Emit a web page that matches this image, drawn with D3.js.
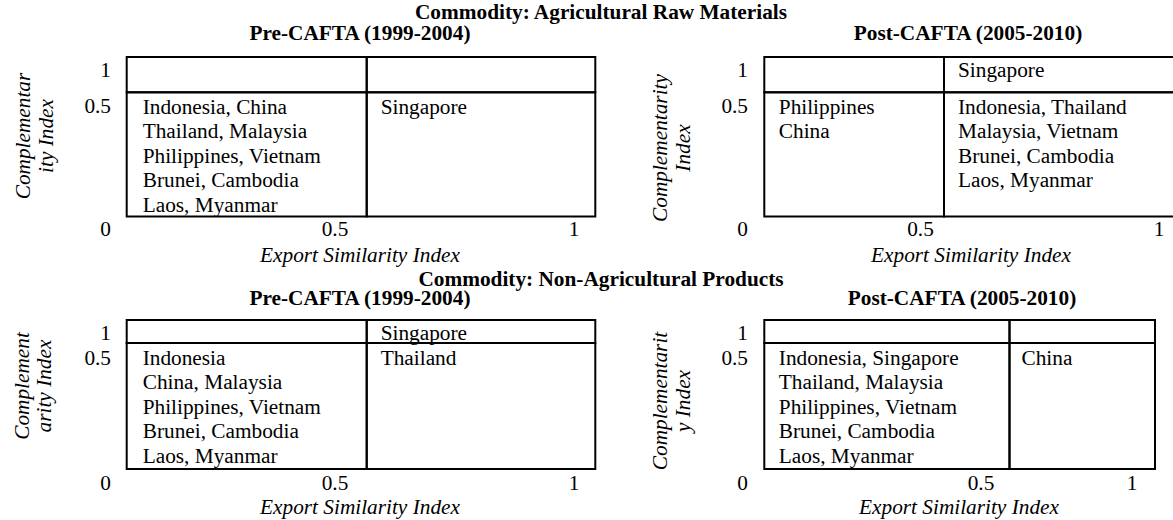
<!DOCTYPE html>
<html>
<head>
<meta charset="utf-8">
<script src="https://cdn.jsdelivr.net/npm/d3@7"></script>
<style>
  body { margin: 0; background: #fff; }
  svg text { font-family: "Liberation Serif", "Times New Roman", serif; font-size: 21.3px; fill: #000; }
  .title { font-weight: bold; }
  .axis-label { font-style: italic; }
</style>
</head>
<body>
<div id="chart"></div>
<script>
// ---- Data ----
const commodities = ['Commodity: Agricultural Raw Materials', 'Commodity: Non-Agricultural Products'];
const periods = ['Pre-CAFTA (1999-2004)', 'Post-CAFTA (2005-2010)'];
const xAxisLabel = 'Export Similarity Index';
const xTickValues = [0.5, 1];
const yTickValues = [1, 0.5, 0];
// y axis title as it wraps in each panel
const yAxisLines = [
  ['Complementar', 'ity Index'],
  ['Complementarity', 'Index'],
  ['Complement', 'arity Index'],
  ['Complementarit', 'y Index'],
];

// Countries per quadrant: [high compl./low sim., high compl./high sim., low compl./low sim., low compl./high sim.]
const agriPre = [
  [],
  [],
  ['Indonesia, China', 'Thailand, Malaysia', 'Philippines, Vietnam', 'Brunei, Cambodia', 'Laos, Myanmar'],
  ['Singapore'],
];
const agriPost = [
  [],
  ['Singapore'],
  ['Philippines', 'China'],
  ['Indonesia, Thailand', 'Malaysia, Vietnam', 'Brunei, Cambodia', 'Laos, Myanmar'],
];
const nonAgriPre = [
  [],
  ['Singapore'],
  ['Indonesia', 'China, Malaysia', 'Philippines, Vietnam', 'Brunei, Cambodia', 'Laos, Myanmar'],
  ['Thailand'],
];
const nonAgriPost = [
  [],
  [],
  ['Indonesia, Singapore', 'Thailand, Malaysia', 'Philippines, Vietnam', 'Brunei, Cambodia', 'Laos, Myanmar'],
  ['China'],
];

// ---- Layout ----
const width = 1173;
const height = 520;
const lineHeight = 24.5;

const blocks = [
  { title: 19, subtitle: 40, top: 57, mid: 92.3, bottom: 216.5, tickY: [236, 113, 77], xTitle: 262, yTitleC: [136, 148] },
  { title: 286, subtitle: 305, top: 320, mid: 343, bottom: 469, tickY: [490, 365, 340], xTitle: 514, yTitleC: [386, 401] },
];

const panels = [
  { block: 0, period: 0, cells: agriPre, yLines: yAxisLines[0], cols: [126.7, 366.7, 595.3], pad: [16, 14],
    yTickX: 111, xTicks: [335, 574], xTitleX: 360, subX: 360, yTitleX: [30, 53] },
  { block: 0, period: 1, cells: agriPost, yLines: yAxisLines[1], cols: [764.3, 944, 1176], pad: [14.5, 14],
    yTickX: 748, xTicks: [920.5, 1159], xTitleX: 971, subX: 968, yTitleX: [667, 690] },
  { block: 1, period: 0, cells: nonAgriPre, yLines: yAxisLines[2], cols: [126.7, 366.7, 595.3], pad: [16, 14],
    yTickX: 111, xTicks: [335, 574], xTitleX: 360, subX: 360, yTitleX: [29, 51] },
  { block: 1, period: 1, cells: nonAgriPost, yLines: yAxisLines[3], cols: [764.3, 1009.5, 1155], pad: [14.5, 12],
    yTickX: 748, xTicks: [981, 1132], xTitleX: 959, subX: 962, yTitleX: [667, 690] },
];

const svg = d3.select('#chart').append('svg')
  .attr('width', width)
  .attr('height', height);

// Commodity titles
svg.selectAll('text.commodity')
  .data(commodities)
  .enter()
  .append('text')
  .attr('class', 'title commodity')
  .attr('x', 601)
  .attr('y', (d, i) => blocks[i].title)
  .attr('text-anchor', 'middle')
  .text((d) => d);

panels.forEach((p) => {
  const b = blocks[p.block];
  const g = svg.append('g').attr('class', 'panel');

  // columns / rows of the quadrant box
  const col = d3.scaleLinear().domain([0, 1, 2]).range(p.cols);
  const row = d3.scaleLinear().domain([0, 1, 2]).range([b.top, b.mid, b.bottom]);
  // tick label positions
  const xTick = d3.scaleLinear().domain(xTickValues).range(p.xTicks);
  const yTick = d3.scaleLinear().domain([0, 0.5, 1]).range(b.tickY);

  // Period subtitle
  g.append('text')
    .attr('class', 'title')
    .attr('x', p.subX)
    .attr('y', b.subtitle)
    .attr('text-anchor', 'middle')
    .text(periods[p.period]);

  // Quadrant cells
  const cells = g.selectAll('g.cell')
    .data(p.cells)
    .enter()
    .append('g')
    .attr('class', 'cell');

  cells.append('rect')
    .attr('x', (d, i) => col(i % 2))
    .attr('y', (d, i) => row(Math.floor(i / 2)))
    .attr('width', (d, i) => col(i % 2 + 1) - col(i % 2))
    .attr('height', (d, i) => row(Math.floor(i / 2) + 1) - row(Math.floor(i / 2)))
    .attr('fill', 'none')
    .attr('stroke', '#000')
    .attr('stroke-width', 2);

  cells.each(function (lines, i) {
    const c = i % 2;
    const r = Math.floor(i / 2);
    const base = r === 0 ? b.top + 20 : b.mid + 21.5;
    d3.select(this).selectAll('text')
      .data(lines)
      .enter()
      .append('text')
      .attr('x', col(c) + p.pad[c])
      .attr('y', (d, k) => base + k * lineHeight)
      .text((d) => d);
  });

  // Y tick labels
  g.selectAll('text.ytick')
    .data(yTickValues)
    .enter()
    .append('text')
    .attr('class', 'ytick')
    .attr('x', p.yTickX)
    .attr('y', (d) => yTick(d))
    .attr('text-anchor', 'end')
    .text((d) => d);

  // X tick labels
  g.selectAll('text.xtick')
    .data(xTickValues)
    .enter()
    .append('text')
    .attr('class', 'xtick')
    .attr('x', (d) => xTick(d))
    .attr('y', b.tickY[0])
    .attr('text-anchor', 'middle')
    .text((d) => d);

  // Axis titles
  g.append('text')
    .attr('class', 'axis-label')
    .attr('x', p.xTitleX)
    .attr('y', b.xTitle)
    .attr('text-anchor', 'middle')
    .text(xAxisLabel);

  g.selectAll('text.ytitle')
    .data(p.yLines)
    .enter()
    .append('text')
    .attr('class', 'axis-label ytitle')
    .attr('text-anchor', 'middle')
    .attr('transform', (d, k) => `translate(${p.yTitleX[k]},${b.yTitleC[p.period]}) rotate(-90)`)
    .text((d) => d);
});
</script>
</body>
</html>
